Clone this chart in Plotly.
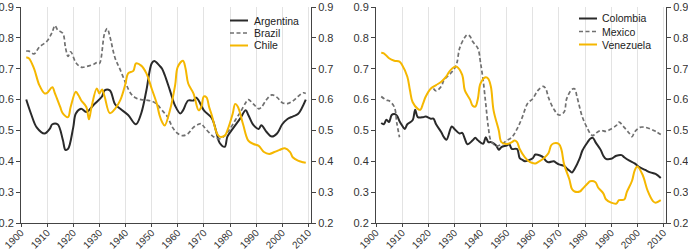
import plotly.graph_objects as go

# ---------------- data ----------------
arg_years = [1902,1904,1906,1909,1911,1912,1914,1916,1917,1918,1920,1921,1923,1925,1928,1931,1932,1934,1936,1938,1941,1944,1946,1948,1950,1951,1953,1954,1955,1957,1959,1961,1962,1964,1966,1967,1968,1970,1973,1975,1976,1978,1979,1981,1984,1986,1987,1989,1991,1992,1994,1996,1998,2000,2002,2004,2006,2009]
arg_vals = [0.60,0.55,0.51,0.49,0.505,0.52,0.52,0.47,0.437,0.44,0.51,0.555,0.57,0.56,0.585,0.61,0.63,0.63,0.585,0.57,0.55,0.52,0.555,0.63,0.717,0.725,0.71,0.70,0.68,0.63,0.58,0.555,0.565,0.597,0.597,0.607,0.597,0.565,0.54,0.487,0.46,0.447,0.48,0.505,0.54,0.565,0.55,0.517,0.505,0.517,0.495,0.48,0.49,0.52,0.537,0.545,0.553,0.60]

bra_years = [1902,1903,1905,1907,1910,1912,1913,1914,1916,1917,1918,1919,1921,1923,1925,1928,1929,1930,1932,1933,1934,1936,1938,1940,1942,1944,1946,1948,1950,1952,1954,1956,1958,1960,1962,1964,1966,1968,1969,1970,1972,1974,1976,1978,1980,1982,1984,1986,1987,1989,1991,1992,1994,1996,1998,2000,2002,2004,2006,2008,2009]
bra_vals = [0.757,0.757,0.748,0.77,0.79,0.82,0.84,0.826,0.815,0.77,0.74,0.755,0.72,0.705,0.707,0.715,0.72,0.717,0.815,0.83,0.805,0.735,0.696,0.655,0.62,0.605,0.60,0.598,0.595,0.585,0.565,0.545,0.51,0.49,0.483,0.49,0.51,0.52,0.522,0.512,0.493,0.478,0.473,0.483,0.505,0.533,0.56,0.59,0.60,0.585,0.57,0.575,0.60,0.615,0.607,0.59,0.587,0.595,0.61,0.622,0.62]

chi_years = [1902,1903,1905,1907,1909,1910,1912,1913,1915,1916,1918,1919,1921,1922,1923,1925,1926,1927,1929,1930,1931,1932,1934,1936,1938,1940,1941,1943,1944,1946,1948,1950,1952,1953,1954,1955,1957,1959,1960,1962,1963,1964,1966,1968,1969,1970,1971,1972,1973,1975,1976,1978,1979,1981,1982,1983,1985,1987,1989,1991,1993,1995,1997,1999,2001,2003,2004,2006,2008,2009]
chi_vals = [0.736,0.734,0.70,0.647,0.62,0.622,0.64,0.62,0.576,0.555,0.543,0.576,0.625,0.614,0.598,0.576,0.536,0.576,0.636,0.62,0.633,0.61,0.556,0.57,0.598,0.652,0.685,0.693,0.717,0.71,0.685,0.636,0.586,0.55,0.527,0.516,0.565,0.647,0.706,0.726,0.70,0.652,0.62,0.565,0.576,0.61,0.607,0.576,0.55,0.49,0.48,0.483,0.50,0.553,0.586,0.577,0.52,0.467,0.456,0.45,0.43,0.424,0.43,0.437,0.442,0.43,0.413,0.402,0.397,0.395]

col_years = [1902,1903,1904,1905,1906,1907,1908,1909,1910,1911,1912,1914,1915,1916,1918,1919,1921,1922,1923,1925,1926,1927,1929,1930,1932,1933,1934,1935,1937,1938,1939,1941,1942,1943,1944,1946,1947,1948,1950,1951,1952,1954,1955,1956,1957,1958,1960,1961,1963,1964,1965,1966,1968,1969,1970,1972,1973,1974,1975,1976,1978,1979,1981,1982,1983,1984,1986,1987,1988,1990,1992,1994,1995,1997,1999,2001,2003,2005,2007,2009]
col_vals = [0.524,0.52,0.535,0.527,0.55,0.553,0.548,0.53,0.516,0.505,0.52,0.533,0.567,0.543,0.543,0.545,0.538,0.538,0.52,0.494,0.478,0.47,0.513,0.505,0.49,0.492,0.473,0.455,0.468,0.476,0.468,0.457,0.478,0.462,0.462,0.451,0.437,0.446,0.451,0.455,0.44,0.44,0.41,0.405,0.40,0.402,0.41,0.422,0.418,0.413,0.402,0.397,0.40,0.395,0.39,0.385,0.377,0.37,0.364,0.375,0.41,0.435,0.462,0.473,0.476,0.462,0.437,0.418,0.408,0.408,0.418,0.42,0.413,0.402,0.393,0.38,0.372,0.364,0.359,0.346]

mex_years = [1902,1904,1905,1907,1908,1909,1910,1922,1923,1925,1926,1928,1930,1931,1932,1934,1935,1936,1937,1939,1940,1941,1942,1943,1944,1946,1948,1950,1952,1954,1956,1958,1960,1962,1964,1965,1966,1968,1970,1972,1973,1975,1976,1977,1979,1981,1982,1983,1984,1986,1988,1990,1992,1993,1995,1997,1998,1999,2001,2003,2005,2007,2009]
mex_vals = [0.61,0.598,0.596,0.576,0.522,0.478,None,0.636,0.628,0.643,0.663,0.68,0.70,0.72,0.766,0.802,0.81,0.805,0.788,0.766,0.72,0.663,0.587,0.51,0.467,0.45,0.455,0.467,0.478,0.505,0.543,0.587,0.603,0.63,0.643,0.635,0.607,0.57,0.55,0.56,0.603,0.633,0.635,0.607,0.543,0.505,0.49,0.483,0.49,0.50,0.497,0.505,0.516,0.527,0.51,0.49,0.48,0.495,0.51,0.51,0.505,0.497,0.487]

ven_years = [1902,1903,1905,1907,1909,1910,1912,1913,1914,1916,1917,1918,1919,1921,1923,1925,1927,1928,1930,1931,1933,1934,1936,1937,1938,1939,1940,1942,1943,1944,1945,1947,1948,1950,1952,1953,1954,1955,1957,1959,1961,1962,1964,1966,1967,1968,1970,1971,1972,1974,1975,1976,1978,1979,1981,1982,1984,1985,1987,1988,1990,1992,1993,1995,1996,1998,1999,2000,2002,2004,2006,2007,2009]
ven_vals = [0.752,0.75,0.734,0.726,0.723,0.712,0.674,0.63,0.592,0.57,0.567,0.587,0.609,0.636,0.647,0.658,0.676,0.69,0.706,0.706,0.68,0.63,0.60,0.58,0.577,0.603,0.652,0.672,0.667,0.641,0.565,0.50,0.462,0.456,0.462,0.467,0.462,0.44,0.413,0.397,0.393,0.397,0.408,0.426,0.451,0.458,0.456,0.437,0.39,0.342,0.31,0.302,0.302,0.31,0.328,0.335,0.332,0.315,0.296,0.277,0.266,0.263,0.274,0.276,0.30,0.337,0.37,0.383,0.357,0.304,0.271,0.266,0.274]

x_ticks = [1900,1910,1920,1930,1940,1950,1960,1970,1980,1990,2000,2010]
y_ticks = [0.2,0.3,0.4,0.5,0.6,0.7,0.8,0.9]
y_tick_text = ["0.2","0.3","0.4","0.5","0.6","0.7","0.8","0.9"]

left_names = ["Argentina", "Brazil", "Chile"]
right_names = ["Colombia", "Mexico", "Venezuela"]

# ---------------- styles ----------------
BLACK = "#2a2a2a"
GRAY = "#707070"
YELLOW = "#f5b700"
DASH = "4px,2.5px"
styles = [dict(color=BLACK, width=2, dash="solid"),
          dict(color=GRAY, width=1.7, dash=DASH),
          dict(color=YELLOW, width=2, dash="solid")]

fig = go.Figure()

left_series = [(arg_years, arg_vals), (bra_years, bra_vals), (chi_years, chi_vals)]
right_series = [(col_years, col_vals), (mex_years, mex_vals), (ven_years, ven_vals)]

for (xs, ys), name, st in zip(left_series, left_names, styles):
    fig.add_trace(go.Scatter(x=xs, y=ys, mode="lines", name=name, line=st,
                             line_shape="spline", connectgaps=False,
                             xaxis="x", yaxis="y", showlegend=False))
for (xs, ys), name, st in zip(right_series, right_names, styles):
    fig.add_trace(go.Scatter(x=xs, y=ys, mode="lines", name=name, line=st,
                             line_shape="spline", connectgaps=False,
                             xaxis="x2", yaxis="y3", showlegend=False))

FONT = "Liberation Sans, Arial, sans-serif"
tickfont = dict(family=FONT, size=11, color="#333333")
xr = [1900, 2011]
yr = [0.2, 0.9]

xcommon = dict(range=xr, tickvals=x_ticks, tickangle=-45, tickfont=dict(family=FONT, size=10, color="#333333"),
               showgrid=True, gridcolor="#e3e3e3", gridwidth=1, zeroline=False,
               showline=True, linecolor="#444444", linewidth=1, automargin=False,
               ticks="outside", ticklen=3, tickcolor="#444444", ticklabelstandoff=-4)
ycommon = dict(range=yr, tickvals=y_ticks, ticktext=y_tick_text, tickfont=tickfont,
               showgrid=False, zeroline=False, showline=True, linecolor="#444444",
               linewidth=1, ticks="outside", ticklen=4, tickcolor="#444444", automargin=False)

d1 = [0, 290/645]
d2 = [355/645, 1]

fig.update_layout(
    width=688, height=251,
    margin=dict(l=21, r=22, t=7, b=28, autoexpand=False),
    paper_bgcolor="white", plot_bgcolor="white",
    showlegend=False,
    xaxis=dict(domain=d1, anchor="y", **xcommon),
    xaxis2=dict(domain=d2, anchor="y3", **xcommon),
    yaxis=dict(anchor="x", side="left", **ycommon),
    yaxis2=dict(anchor="x", overlaying="y", side="right", **ycommon),
    yaxis3=dict(anchor="x2", side="left", **ycommon),
    yaxis4=dict(anchor="x2", overlaying="y3", side="right", **ycommon),
)

# empty traces so that right-hand axes render
fig.add_trace(go.Scatter(x=[None], y=[None], xaxis="x", yaxis="y2", showlegend=False, hoverinfo="skip"))
fig.add_trace(go.Scatter(x=[None], y=[None], xaxis="x2", yaxis="y4", showlegend=False, hoverinfo="skip"))

# ---------------- manual legends (compact spacing as in reference) ----------------
def px_x(p):
    return (p - 21) / 645
def px_y(p):
    return (223 - p) / 216

def add_legend(names, x0, x1, xt, ys):
    for name, st, yy in zip(names, styles, ys):
        fig.add_shape(type="line", xref="paper", yref="paper",
                      x0=px_x(x0), x1=px_x(x1), y0=px_y(yy), y1=px_y(yy),
                      line=dict(color=st["color"], width=st["width"], dash=st["dash"]))
        fig.add_annotation(xref="paper", yref="paper", x=px_x(xt), y=px_y(yy), text=name,
                           showarrow=False, xanchor="left", yanchor="middle", borderpad=0,
                           font=dict(family=FONT, size=10.5, color="#222222"))

add_legend(left_names, 230, 248, 253, [20.5, 33, 45.5])
add_legend(right_names, 579, 597, 601, [18.5, 31.5, 44.5])

fig.write_html("out.html", config={"displayModeBar": False},
               post_script="document.body.style.margin='0';document.body.style.overflow='hidden';")
